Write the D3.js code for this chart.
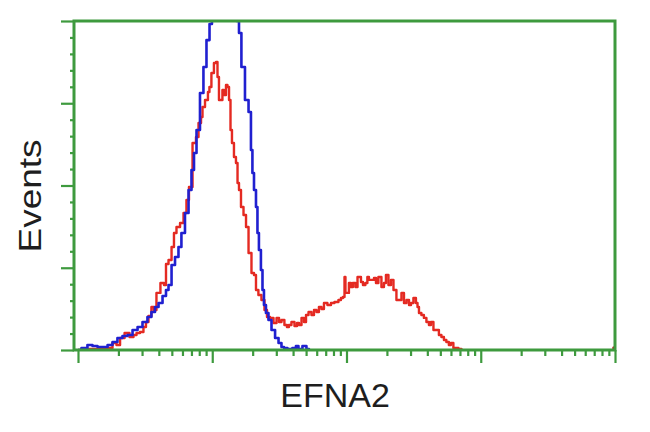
<!DOCTYPE html>
<html><head><meta charset="utf-8">
<script src="https://cdn.jsdelivr.net/npm/d3@7"></script>
<style>body{margin:0;background:#fff}svg{display:block}</style>
</head><body>
<script>
// Histogram channels (256-channel, 4-decade log scale) and event counts
const blueChannels = [0,3.3,5.7,8.1,10.5,12.9,15.3,17.6,20,22.4,24.8,27.2,29.6,31.9,34.3,35.7,37.7,39.1,41.5,42.4,43.9,45.3,47.2,48.6,50,52,53.4,54.8,55.8,57.2,59.1,60.5,62,63.4,64.3,65.8,67.7,70.1,72.5,74.8,76.3,77.2,78.6,80.6,82,82.9,83.4,84.4,85.3,85.8,86.7,87.7,88.2,89.1,90.1,91.5,93,94.9,96.3,97.7,98.7,101,103.4,104.4,105.8,108.2,109.6,110.6];
const blueCounts = [0,1.2,3,2.4,1.8,1.8,3,4.9,7.3,8.5,9.1,12.2,14,17,20.1,23.1,26.1,28.6,32.8,36.5,39.5,51.7,56.5,62.6,71.1,83.3,97.3,109.4,119.8,133.7,156.2,172,188.4,198.2,215,228,236,238,232,218,200,192.7,172,152,144.7,121.6,107.6,97.3,86.9,71.1,60.8,48.6,36.5,27.4,22.5,18.2,12.2,7.3,4.3,1.8,1.2,0.6,1.2,2.4,0.6,2.4,0.6,0];
const redChannels = [0,3.3,8.1,12.9,15.3,17.6,19.1,21,23.4,25.7,27.2,28.6,30.5,31.9,32.9,34.3,35.7,36.7,38.1,40.5,41.5,42.4,43.9,45.3,46.2,47.7,49.6,51,52.4,53.4,55.8,56.7,58.2,59.1,59.6,61.5,62.4,62.9,64.3,65.3,66.3,66.7,67.7,68.6,69.1,70.1,71,71.5,72.5,72.9,73.9,74.8,75.8,76.3,77.2,78.2,79.6,80.6,82,83.4,84.4,85.3,86.7,88.2,89.6,90.6,92.5,93.9,95.4,96.3,97.7,99.1,100.1,101,102.5,103.9,104.9,105.8,107.3,108.2,109.2,110.6,112,113,114.4,115.3,116.8,117.7,120.1,121.1,123.4,124.9,125.8,126.8,127.3,127.7,128.7,129.6,130.6,131.5,133,133.5,134.4,135.4,136.3,137.7,138.2,139.2,140.6,141.6,142.5,143.9,145.4,146.3,147.3,148.7,149.7,151.1,152.5,153.5,154.9,155.9,157.3,158.3,159.2,160.6,161.6,162.1,163,164.4,165.4,166.8,167.8,168.7,170.2,171.6,172.5,174,174.9,176.3,177.3,178.2,179.7,180.7,182,183.5];
const redCounts = [0,0.6,0.6,0.6,1.2,4.3,3,7.3,10.3,7.9,9.1,10.3,10.9,14,17,20.7,26.1,24.3,34.7,40.7,39.5,52.3,54.7,62.6,71.1,74.8,77.2,83.3,91.2,99.1,125.8,129.5,138,141.6,147.7,152,156.8,159.9,168.4,174.5,175.1,166,152,152,158.1,155,161.1,159.9,152,133.7,125.8,117.3,113.7,101.5,97.3,86.9,82.1,74.8,59,46.8,45.6,36.5,33.4,30.4,24.3,20.1,19.5,16.4,19.5,17,18.2,15.2,14,15.2,17,14.6,16.4,15.2,19.5,17,21.3,23.1,21.3,24.3,23.1,26.1,24.9,28.6,27.4,28.6,29.2,30.4,31.6,32.2,44.4,34.7,34.7,40.7,38.3,40.7,38.3,44.4,44.4,41.3,39.5,40.7,44.4,42.6,42.6,43.8,40.7,44.4,38.3,40.7,45.6,39.5,42.6,36.5,30.4,30.4,34.7,28.6,30.4,27.4,28.6,31.6,28.6,26.1,22.5,21.3,19.5,17,15.2,17,12.2,12.2,9.1,7.9,6.1,4.9,3,4.3,1.2,1.2,0.6,0];
const redEdgeChannel = [255.5];
const redEdgeCount = [1.2];
const xDecades = [1, 10, 100, 1000, 10000];
const yMajor = [0, 50, 100, 150, 200];
const xLabel = "EFNA2";
const yLabel = "Events";

const W = 650, H = 432;
const L = 74, R = 615, T = 21, B = 350;
const green = "#3e9a3e", blue = "#2020d0", red = "#e42a22";

const svg = d3.select("body").append("svg").attr("width", W).attr("height", H);

const xCh = d3.scaleLinear().domain([0, 256]).range([78, R]);
const xLog = d3.scaleLog().domain([1, 10000]).range([78, R]);
const y = d3.scaleLinear().domain([0, 200]).range([B, T]);

svg.append("clipPath").attr("id", "plot").append("rect")
  .attr("x", L).attr("y", T).attr("width", R - L).attr("height", B - T);

const line = d3.line().x(d => xCh(d[0])).y(d => y(d[1])).curve(d3.curveStep);
const redData = redChannels.map((c, i) => [c, redCounts[i]]);
const blueData = blueChannels.map((c, i) => [c, blueCounts[i]]);

const g = svg.append("g").attr("clip-path", "url(#plot)");
g.append("path").datum(redData).attr("d", line)
  .attr("fill", "none").attr("stroke", red).attr("stroke-width", 2.4).attr("stroke-linejoin", "round");
g.append("path").datum(blueData).attr("d", line)
  .attr("fill", "none").attr("stroke", blue).attr("stroke-width", 2.6).attr("stroke-linejoin", "round");
g.selectAll("circle.edge").data(redEdgeChannel).enter().append("circle")
  .attr("cx", (d) => xCh(d)).attr("cy", (d, i) => y(redEdgeCount[i])).attr("r", 1.8).attr("fill", "#b02020");

// x minor/major ticks
const xMinor = [];
xDecades.slice(0, -1).forEach(d => { for (let k = 2; k <= 9; k++) xMinor.push(d * k); });
const yMinor = d3.range(0, 201, 10).filter(v => v % 50 !== 0);

function styleAxis(sel) {
  sel.select(".domain").remove();
  sel.selectAll("line").attr("stroke", green).attr("stroke-width", 2.2);
  sel.selectAll("text").remove();
}
svg.append("g").attr("transform", `translate(0,${B})`)
  .call(d3.axisBottom(xLog).tickValues(xMinor).tickSize(6).tickFormat("")).call(styleAxis);
svg.append("g").attr("transform", `translate(0,${B})`)
  .call(d3.axisBottom(xLog).tickValues(xDecades).tickSize(13).tickFormat("")).call(styleAxis);
svg.append("g").attr("transform", `translate(${L},0)`)
  .call(d3.axisLeft(y).tickValues(yMinor).tickSize(4).tickFormat("")).call(styleAxis);
svg.append("g").attr("transform", `translate(${L},0)`)
  .call(d3.axisLeft(y).tickValues(yMajor).tickSize(13).tickFormat("")).call(styleAxis);

// frame
svg.append("path")
  .attr("d", `M${L},${T}H${R}V${B}H${L}Z`)
  .attr("fill", "none").attr("stroke", green).attr("stroke-width", 3);

svg.append("text").text(xLabel)
  .attr("x", 335).attr("y", 407).attr("text-anchor", "middle")
  .attr("font-family", "Liberation Sans, Arial, sans-serif").attr("font-size", 34)
  .attr("fill", "#1e1e1e");
svg.append("text").text(yLabel)
  .attr("transform", "translate(41,196) rotate(-90)").attr("text-anchor", "middle")
  .attr("font-family", "Liberation Sans, Arial, sans-serif").attr("font-size", 31)
  .attr("textLength", 113).attr("lengthAdjust", "spacingAndGlyphs")
  .attr("fill", "#1e1e1e");
</script>
</body></html>
